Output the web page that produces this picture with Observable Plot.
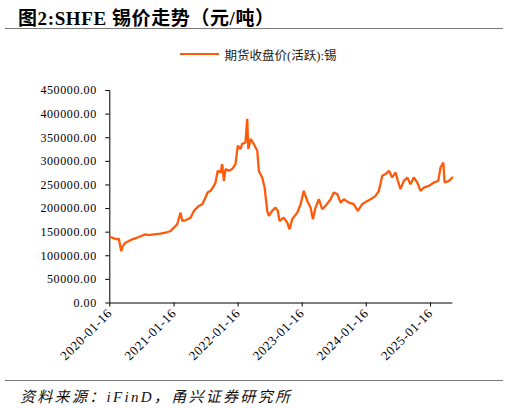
<!DOCTYPE html>
<html>
<head>
<meta charset="utf-8">
<script src="https://cdn.jsdelivr.net/npm/d3@7"></script>
<script src="https://cdn.jsdelivr.net/npm/@observablehq/plot@0.6"></script>
<style>
  html, body { margin: 0; padding: 0; background: #fff; }
  #wrap { position: relative; width: 509px; height: 408px; overflow: hidden;
          font-family: "Liberation Serif", "Times New Roman", "Noto Sans CJK SC", serif; color: #000; }
  #title { position: absolute; left: 18px; top: 3px; font-size: 19px; font-weight: bold;
           white-space: nowrap; letter-spacing: 0.6px; }
  #topline { position: absolute; left: 5px; top: 27.5px; width: 498px; height: 0; border-top: 1.3px solid #7a7a7a; }
  #legend { position: absolute; left: 0; top: 45px; width: 509px; height: 18px; display: flex;
            justify-content: center; align-items: center; font-size: 12.5px; color: #222; }
  #legend .sw { width: 39px; height: 2px; background: #ff5a0a; margin-right: 6px; margin-left: 7px; }
  #chart { position: absolute; left: 0; top: 70px; }
  #chart svg text { letter-spacing: 0.6px; }
  #botline { position: absolute; left: 5px; top: 379.5px; width: 498px; height: 0; border-top: 1.3px solid #7a7a7a; }
  #source { position: absolute; left: 20px; top: 385px; font-size: 15px; font-style: italic;
            letter-spacing: 2.3px; white-space: nowrap; color: #111; }
</style>
</head>
<body>
<div id="wrap">
  <div id="title">图2:SHFE 锡价走势（元/吨）</div>
  <div id="topline"></div>
  <div id="legend"><span class="sw"></span><span id="legtext"></span></div>
  <div id="chart"></div>
  <div id="botline"></div>
  <div id="source">资料来源：iFinD，甬兴证券研究所</div>
</div>
<script>
const seriesName = "期货收盘价(活跃):锡";

const dates = [
  "2020-01-20","2020-02-08","2020-02-27","2020-03-07","2020-03-21","2020-03-30","2020-04-14","2020-05-23","2020-06-29","2020-08-06","2020-08-25","2020-09-23","2020-10-31","2020-11-28","2020-12-27",
  "2021-01-15","2021-02-03","2021-02-22","2021-03-04","2021-03-22","2021-04-20","2021-05-09","2021-06-06","2021-06-26","2021-07-14","2021-07-26","2021-08-12","2021-08-31","2021-09-09","2021-09-22","2021-10-08","2021-10-17","2021-10-27","2021-11-05","2021-11-24","2021-12-13",
  "2022-01-01","2022-01-14","2022-01-30","2022-02-08","2022-02-27","2022-03-09","2022-03-15","2022-03-28","2022-04-15","2022-05-05","2022-05-14","2022-06-02","2022-06-16","2022-07-01","2022-07-10","2022-07-29","2022-08-17","2022-08-30","2022-09-09","2022-10-03","2022-10-23","2022-11-05","2022-11-20","2022-12-19",
  "2023-01-07","2023-01-25","2023-02-14","2023-03-05","2023-03-18","2023-04-02","2023-04-21","2023-05-10","2023-05-29","2023-06-27","2023-07-15","2023-08-04","2023-08-23","2023-09-10","2023-10-09","2023-11-06","2023-11-29","2023-12-24",
  "2024-01-22","2024-02-10","2024-03-09","2024-03-28","2024-04-16","2024-05-05","2024-05-24","2024-06-12","2024-07-01","2024-07-14","2024-07-29","2024-08-17","2024-09-06","2024-09-24","2024-10-13","2024-11-02","2024-11-20","2024-12-09",
  "2025-01-07","2025-02-04","2025-03-01","2025-03-14","2025-03-30","2025-04-06","2025-05-01","2025-05-20"
];

const prices = [
  139700,136900,134800,136900,109900,120500,127600,134800,139700,145400,143900,145400,146700,148800,152400,
  159500,166700,191300,173700,175200,180700,195000,205600,209200,223200,233900,237500,248100,255100,280000,276400,294200,258700,283600,280000,283600,
  294200,333100,326100,336800,340200,389900,326100,347400,336800,322500,280000,265800,244500,195000,184300,195000,202000,195000,173700,180700,170100,156000,177300,191300,
  209200,237500,216200,202000,177300,202000,219800,198600,205600,219800,233900,230500,212600,219800,212600,209200,195000,209200,
  216200,219800,226800,237500,269400,273000,280000,265800,276400,258700,241100,258700,265800,251700,265800,255100,237500,244500,
  248100,255100,258700,287000,297600,255100,258700,265800
];

const xTickLabels = ["2020-01-16","2021-01-16","2022-01-16","2023-01-16","2024-01-16","2025-01-16"];
const yTickValues = [0,50000,100000,150000,200000,250000,300000,350000,400000,450000];
const xStart = "2020-01-16";
const xEnd = "2025-05-23";

document.getElementById("legtext").textContent = seriesName;

const data = dates.map((d, i) => ({date: new Date(d), price: prices[i]}));

const chart = Plot.plot({
  width: 509,
  height: 302,
  marginTop: 20,
  marginBottom: 69.5,
  marginLeft: 109.3,
  marginRight: 56.7,
  style: {
    fontFamily: '"Liberation Serif","Times New Roman",serif',
    fontSize: "12px",
    color: "#000",
    background: "transparent",
    overflow: "visible"
  },
  x: {type: "utc", domain: [new Date(xStart), new Date(xEnd)]},
  y: {domain: [0, 450000]},
  marks: [
    Plot.axisY({ticks: yTickValues, tickFormat: d => d.toFixed(2), tickSize: 4, tickPadding: 9, label: null, fontSize: 12}),
    Plot.axisX({ticks: xTickLabels.map(d => new Date(d)), tickFormat: d3.utcFormat("%Y-%m-%d"),
                tickRotate: -45, tickSize: 4, tickPadding: 4, label: null, fontSize: 13, fill: "#000"}),
    Plot.ruleY([0], {stroke: "#000"}),
    Plot.ruleX([new Date(xStart)], {y1: 0, y2: 450000, stroke: "#000"}),
    Plot.line(data, {x: "date", y: "price", stroke: "#ff5a0a", strokeWidth: 2.3, strokeLinejoin: "miter"})
  ]
});
document.getElementById("chart").appendChild(chart);
</script>
</body>
</html>
